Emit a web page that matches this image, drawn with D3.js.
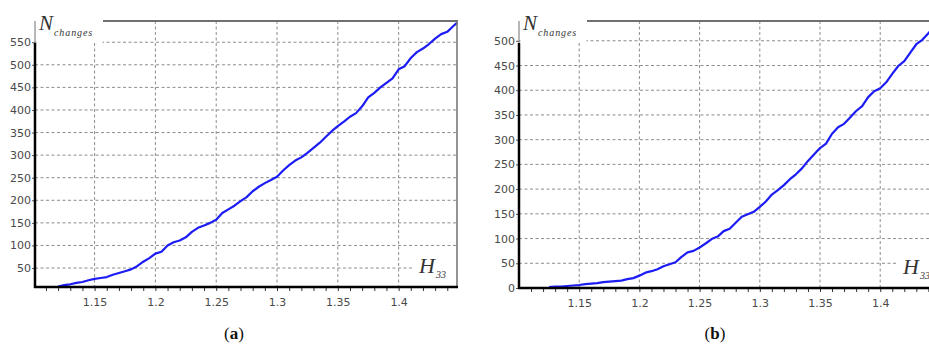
<!DOCTYPE html>
<html>
<head>
<meta charset="utf-8">
<script src="https://cdn.jsdelivr.net/npm/d3@7"></script>
<style>
  body { margin: 0; background: #fff; }
  .tick text { font-family: "DejaVu Sans", sans-serif; font-size: 11px; fill: #4a4a4a; }
  .grid line { stroke: #8c8c8c; stroke-width: 1; stroke-dasharray: 3,2.5; }
</style>
</head>
<body>
<svg id="chart" width="929" height="347"></svg>
<script>
// panel (a): N_changes vs H33
const hA = [1.12, 1.125, 1.13, 1.135, 1.14, 1.145, 1.15, 1.155, 1.16, 1.165, 1.17, 1.175, 1.18, 1.185, 1.19, 1.195,
  1.2, 1.205, 1.21, 1.215, 1.22, 1.225, 1.23, 1.235, 1.24, 1.245, 1.25, 1.255, 1.26, 1.265, 1.27, 1.275,
  1.28, 1.285, 1.29, 1.295, 1.3, 1.305, 1.31, 1.315, 1.32, 1.325, 1.33, 1.335, 1.34, 1.345, 1.35, 1.355,
  1.36, 1.365, 1.37, 1.375, 1.38, 1.385, 1.39, 1.395, 1.4, 1.405, 1.41, 1.415, 1.42, 1.425, 1.43, 1.435,
  1.44, 1.445, 1.448];
const nA = [9, 12, 14, 17, 19, 23, 26, 28, 30, 35, 39, 43, 47, 54, 64, 72,
  82, 86, 100, 107, 111, 118, 130, 139, 144, 150, 157, 172, 180, 188, 198, 207,
  220, 230, 238, 245, 252, 266, 278, 288, 295, 305, 316, 327, 340, 353, 364, 374,
  385, 393, 408, 428, 438, 450, 460, 470, 490, 497, 515, 528, 536, 546, 558, 568,
  573, 586, 593];

// panel (b): N_changes vs H33 (cut at right edge)
const hB = [1.125, 1.13, 1.135, 1.14, 1.145, 1.15, 1.155, 1.16, 1.165, 1.17, 1.175, 1.18, 1.185, 1.19, 1.195,
  1.2, 1.205, 1.21, 1.215, 1.22, 1.225, 1.23, 1.235, 1.24, 1.245, 1.25, 1.255, 1.26, 1.265, 1.27, 1.275,
  1.28, 1.285, 1.29, 1.295, 1.3, 1.305, 1.31, 1.315, 1.32, 1.325, 1.33, 1.335, 1.34, 1.345, 1.35, 1.355,
  1.36, 1.365, 1.37, 1.375, 1.38, 1.385, 1.39, 1.395, 1.4, 1.405, 1.41, 1.415, 1.42, 1.425, 1.43, 1.435,
  1.44, 1.445, 1.448];
const nB = [2, 3, 3, 4, 5, 6, 8, 9, 10, 12, 13, 14, 15, 18, 20,
  25, 31, 34, 38, 44, 48, 52, 63, 72, 75, 82, 90, 99, 104, 115, 120,
  132, 144, 149, 154, 164, 175, 189, 198, 208, 220, 230, 242, 257, 270, 283, 292,
  312, 325, 332, 345, 358, 368, 386, 398, 404, 416, 433, 449, 459, 476, 493, 502,
  515, 530, 540];

const xTicks = [1.15, 1.2, 1.25, 1.3, 1.35, 1.4];
const yTicksA = [50, 100, 150, 200, 250, 300, 350, 400, 450, 500, 550];
const yTicksB = [0, 50, 100, 150, 200, 250, 300, 350, 400, 450, 500];

const svg = d3.select('#chart');
const serif = '"Liberation Serif", "DejaVu Serif", serif';

function drawPanel(p) {
    const g = svg.append('g');
    const x = d3.scaleLinear().domain(p.xDomain).range([p.left, p.right]);
    const y = d3.scaleLinear().domain(p.yDomain).range([p.bottom, p.top]);

    // dashed grid
    const grid = g.append('g').attr('class', 'grid');
    grid.selectAll('.gx').data(xTicks).enter().append('line')
        .attr('x1', d => x(d)).attr('x2', d => x(d))
        .attr('y1', p.top).attr('y2', p.bottom);
    grid.selectAll('.gy').data(p.yTicks.filter(d => d > p.yDomain[0])).enter().append('line')
        .attr('x1', p.left).attr('x2', p.right)
        .attr('y1', d => y(d)).attr('y2', d => y(d));

    // curve
    const pts = p.h.map((h, i) => [h, p.n[i]]);
    g.append('path').datum(pts)
        .attr('fill', 'none')
        .attr('stroke', '#1c1cf5')
        .attr('stroke-width', 2.2)
        .attr('stroke-linejoin', 'round')
        .attr('d', d3.line().x(d => x(d[0])).y(d => y(d[1])));

    // label box for N_changes (white, covers grid)
    g.append('rect').attr('x', p.left + 1.5).attr('y', p.top - 8)
        .attr('width', p.nBoxW).attr('height', 30).attr('fill', '#fff');
    const nt = g.append('text').attr('x', p.left + 4).attr('y', p.top + 9)
        .style('font-family', serif)
        .style('font-style', 'italic').attr('fill', '#333');
    nt.append('tspan').text('N').style('font-size', '21px');
    nt.append('tspan').text('changes').attr('dx', 1).attr('dy', 6)
        .style('font-size', '10px').style('letter-spacing', '0.9px');

    // H label box
    g.append('rect').attr('x', p.hX - 6).attr('y', p.bottom - 37)
        .attr('width', 44).attr('height', 34).attr('fill', '#fff');
    const ht = g.append('text').attr('x', p.hX).attr('y', p.bottom - 14)
        .style('font-family', serif)
        .style('font-style', 'italic').attr('fill', '#333');
    ht.append('tspan').text('H').style('font-size', '22px');
    ht.append('tspan').text('33').attr('dx', 1).attr('dy', 5).style('font-size', '10px');

    // frame (grey right / top / left)
    g.append('line').attr('x1', p.right).attr('x2', p.right).attr('y1', p.top).attr('y2', p.bottom)
        .attr('stroke', '#707070').attr('stroke-width', 1.5);
    g.append('line').attr('x1', p.left).attr('x2', p.left).attr('y1', p.top).attr('y2', p.bottom)
        .attr('stroke', '#707070').attr('stroke-width', 1);
    g.append('line').attr('x1', p.left + p.nBoxW + 2).attr('x2', p.right + 1)
        .attr('y1', p.top).attr('y2', p.top)
        .attr('stroke', '#707070').attr('stroke-width', 2);

    // axes
    const minor = d3.range(Math.ceil(p.xDomain[0] * 100), Math.floor(p.xDomain[1] * 100) + 1).map(d => d / 100);
    const xAxis = d3.axisBottom(x).tickValues(minor).tickSize(4).tickPadding(7)
        .tickFormat(d => (Math.round(d * 100) % 5 === 0 ? d3.format('')(+d.toFixed(2)) : ''));
    const xa = g.append('g').attr('transform', `translate(0, ${p.bottom})`).call(xAxis);
    xa.select('.domain').remove();
    xa.selectAll('.tick line').attr('stroke', '#333');

    const yAxis = d3.axisLeft(y).tickValues(p.yTicks).tickSize(3).tickPadding(1);
    const ya = g.append('g').attr('transform', `translate(${p.left}, 0)`).call(yAxis);
    ya.select('.domain').remove();
    ya.selectAll('.tick line').attr('stroke', '#555');

    // thick black axis lines
    g.append('line').attr('x1', p.left).attr('x2', p.left).attr('y1', p.top + 22).attr('y2', p.bottom + 1)
        .attr('stroke', '#000').attr('stroke-width', 2.5);
    g.append('line').attr('x1', p.left - 1).attr('x2', p.right + 1).attr('y1', p.bottom).attr('y2', p.bottom)
        .attr('stroke', '#000').attr('stroke-width', 2.5);

    // caption
    const cap = svg.append('text').attr('x', p.capX).attr('y', 339)
        .attr('text-anchor', 'middle')
        .style('font-family', serif)
        .style('font-size', '17px').attr('fill', '#111');
    cap.append('tspan').text('(');
    cap.append('tspan').text(p.cap).style('font-weight', 'bold');
    cap.append('tspan').text(')');
}

drawPanel({ h: hA, n: nA, xDomain: [1.101, 1.448], yDomain: [8, 597], yTicks: yTicksA,
    left: 35, right: 457, top: 21, bottom: 287, nBoxW: 66, hX: 419, capX: 234, cap: 'a' });
drawPanel({ h: hB, n: nB, xDomain: [1.1, 1.448], yDomain: [0, 540], yTicks: yTicksB,
    left: 519, right: 938, top: 21, bottom: 288, nBoxW: 66, hX: 903, capX: 715, cap: 'b' });
</script>
</body>
</html>
